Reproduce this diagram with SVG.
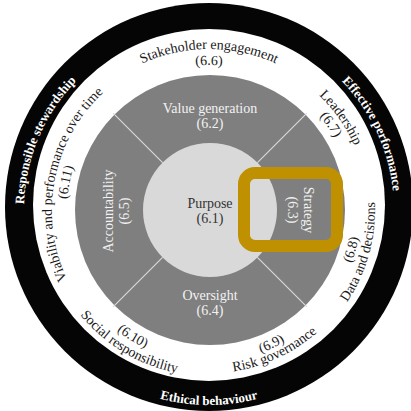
<svg xmlns="http://www.w3.org/2000/svg" width="411" height="411" viewBox="0 0 411 411">
<style>
text{font-family:"Liberation Serif","Times New Roman",serif;font-size:14px;text-anchor:middle;}
.ring{fill:#1a1a1a;}
.seg{fill:#f2f2f2;}
.core{fill:#333333;}
.band{fill:#ffffff;font-weight:bold;font-size:13px;}
.div{stroke:#d9d9d9;stroke-width:1.2;fill:none;}
</style>
<defs>
<path id="pStake" d="M48,210 A161,161 0 0 1 370,210"/>
<path id="p66" d="M64,210 A145,145 0 0 1 354,210"/>
<path id="pLead" d="M116.7,78.1 A161,161 0 0 1 301.3,341.9"/>
<path id="p67" d="M125.8,91.2 A145,145 0 0 1 292.2,328.8"/>
<path id="pVia" d="M178.3,368 A161,161 0 0 1 239.7,52"/>
<path id="p611" d="M181.3,352.3 A145,145 0 0 1 236.7,67.7"/>
<path id="pData" d="M164.6,370 A166,166 0 0 0 253.4,50"/>
<path id="p68" d="M168.4,356.5 A152,152 0 0 0 249.6,63.5"/>
<path id="pRisk" d="M58.6,280.2 A166,166 0 0 0 359.4,139.8"/>
<path id="p69" d="M71.2,274.2 A152,152 0 0 0 346.8,145.8"/>
<path id="pSoc" d="M66.7,124.5 A166,166 0 0 0 351.3,295.5"/>
<path id="p610" d="M78.7,131.7 A152,152 0 0 0 339.3,288.3"/>
<path id="pResp" d="M136.7,380.3 A185,185 0 0 1 281.3,39.7"/>
<path id="pEff" d="M130.8,42.3 A185,185 0 0 1 287.2,377.7"/>
<path id="pEth" d="M14,210 A195,195 0 0 0 404,210"/>
</defs>
<rect width="411" height="411" fill="#ffffff"/>
<g id="outer-band">
<circle cx="209" cy="207" r="204" fill="#050505"/>
<circle cx="209" cy="205" r="176" fill="#ffffff"/>
<text class="band"><textPath href="#pResp" startOffset="50%">Responsible  stewardship</textPath></text>
<text class="band"><textPath href="#pEff" startOffset="50%">Effective performance</textPath></text>
<text class="band"><textPath href="#pEth" startOffset="50%">Ethical behaviour</textPath></text>
</g>
<g id="ring-segments">
<circle cx="210" cy="210" r="135" fill="#7f7f7f"/>
</g>
<g id="connectors">
<line class="div" x1="257.4" y1="162.6" x2="306.9" y2="113.1"/>
<line class="div" x1="162.6" y1="162.6" x2="113.1" y2="113.1"/>
<line class="div" x1="257.4" y1="257.4" x2="306.9" y2="306.9"/>
<line class="div" x1="162.6" y1="257.4" x2="113.1" y2="306.9"/>
</g>
<g id="purpose">
<circle cx="210" cy="210" r="67" fill="#d9d9d9"/>
<text class="core" x="210" y="208">Purpose</text>
<text class="core" x="210" y="223">(6.1)</text>
</g>
<g id="value-generation">
<text class="seg" x="210" y="113">Value generation</text>
<text class="seg" x="210" y="128">(6.2)</text>
</g>
<g id="strategy">
<text class="seg" transform="translate(304,210) rotate(90)">Strategy</text>
<text class="seg" transform="translate(288,210) rotate(90)">(6.3)</text>
</g>
<g id="oversight">
<text class="seg" x="210" y="300">Oversight</text>
<text class="seg" x="210" y="315">(6.4)</text>
</g>
<g id="accountability">
<text class="seg" transform="translate(113,211) rotate(-90)">Accountability</text>
<text class="seg" transform="translate(129,211) rotate(-90)">(6.5)</text>
</g>
<g id="stakeholder-engagement">
<text class="ring"><textPath href="#pStake" startOffset="50%">Stakeholder engagement</textPath></text>
<text class="ring"><textPath href="#p66" startOffset="50%">(6.6)</textPath></text>
</g>
<g id="leadership">
<text class="ring"><textPath href="#pLead" startOffset="50%">Leadership</textPath></text>
<text class="ring"><textPath href="#p67" startOffset="50%">(6.7)</textPath></text>
</g>
<g id="data-and-decisions">
<text class="ring"><textPath href="#pData" startOffset="50%">Data and decisions</textPath></text>
<text class="ring"><textPath href="#p68" startOffset="50%">(6.8)</textPath></text>
</g>
<g id="risk-governance">
<text class="ring"><textPath href="#pRisk" startOffset="50%">Risk governance</textPath></text>
<text class="ring"><textPath href="#p69" startOffset="50%">(6.9)</textPath></text>
</g>
<g id="social-responsibility">
<text class="ring"><textPath href="#pSoc" startOffset="50%">Social responsibility</textPath></text>
<text class="ring"><textPath href="#p610" startOffset="50%">(6.10)</textPath></text>
</g>
<g id="viability">
<text class="ring"><textPath href="#pVia" startOffset="50%">Viability and performance over time</textPath></text>
<text class="ring"><textPath href="#p611" startOffset="50%">(6.11)</textPath></text>
</g>
<g id="highlight">
<rect x="244" y="173" width="93" height="73" rx="11" fill="none" stroke="#bf9000" stroke-width="12"/>
</g>
</svg>
